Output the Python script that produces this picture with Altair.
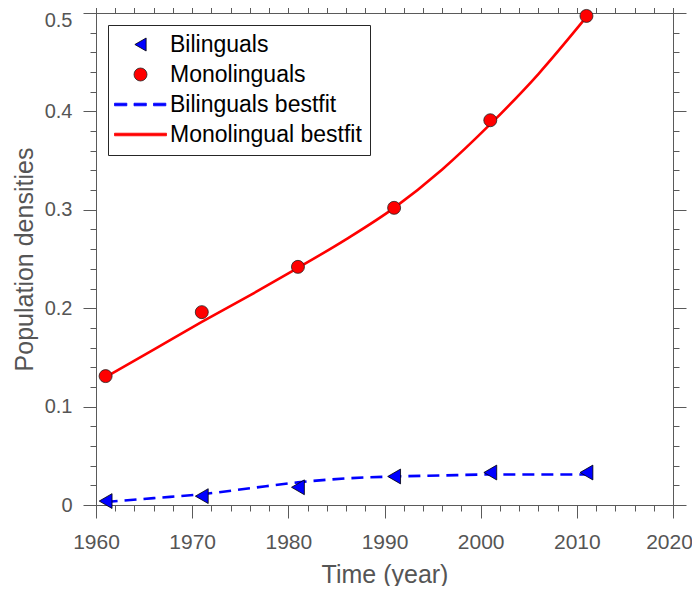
import altair as alt
import pandas as pd

# ---- data ----
years = [1961, 1971, 1981, 1991, 2001, 2011]
bilinguals = [0.004, 0.009, 0.018, 0.029, 0.033, 0.033]
monolinguals = [0.131, 0.196, 0.242, 0.302, 0.391, 0.497]

fit_years = [1961, 1966, 1971, 1976, 1981, 1986, 1991, 1996, 2001, 2006, 2011]
bilinguals_fit = [0.003, 0.007, 0.011, 0.017, 0.023, 0.027, 0.029, 0.030, 0.031, 0.031, 0.031]
monolingual_fit = [0.130, 0.158, 0.186, 0.213, 0.241, 0.270, 0.302, 0.341, 0.387, 0.438, 0.496]

series_names = ["Bilinguals", "Monolinguals", "Bilinguals bestfit", "Monolingual bestfit"]
series_fill = ["#0000ff", "#ff0000", "#0000ff", "#ff0000"]
series_stroke = ["#000000", "#222222", "#0000ff", "#ff0000"]
series_shape = [
    "triangle-left",
    "circle",
    "M-4,-0.2H-2.1V0.2H-4Z M-1.0,-0.2H0.9V0.2H-1.0Z M2.0,-0.2H3.9V0.2H2.0Z",
    "M-4,-0.2H4V0.2H-4Z",
]

x_major = [1960, 1970, 1980, 1990, 2000, 2010, 2020]
x_minor = [1960 + 2 * i for i in range(31)]
y_major = [0, 0.1, 0.2, 0.3, 0.4, 0.5]
y_minor = [round(0.02 * i, 2) for i in range(26)]

bil_pts = pd.DataFrame({"year": years, "value": bilinguals, "series": "Bilinguals"})
mono_pts = pd.DataFrame({"year": years, "value": monolinguals, "series": "Monolinguals"})
bil_fit = pd.DataFrame({"year": fit_years, "value": bilinguals_fit})
mono_fit = pd.DataFrame({"year": fit_years, "value": monolingual_fit})

AX = "#5a5a5a"
TXT = "#555555"
FONT = "Liberation Sans"

xscale = alt.Scale(domain=[1960, 2020], nice=False, zero=False)
yscale = alt.Scale(domain=[0, 0.5], nice=False, zero=False)


def x_axis(orient, values, major, labels=False):
    kw = dict(orient=orient, values=values, tickSize=13 if major else 6,
              tickColor=AX, tickWidth=1, domain=major, domainColor=AX, domainWidth=1,
              grid=False, labels=labels)
    if labels:
        kw.update(format="d", labelFontSize=21, labelColor=TXT, labelFont=FONT,
                  labelPadding=13, labelFlush=False, labelOverlap=False,
                  labelOffset={"condition": {"test": "datum.value >= 2015", "value": -4},
                               "value": 0},
                  title="Time (year)", titleFontSize=25, titleColor=TXT,
                  titleFont=FONT, titleFontWeight="normal", titlePadding=10)
    else:
        kw.update(title=None)
    return alt.Axis(**kw)


def y_axis(orient, values, major, labels=False):
    kw = dict(orient=orient, values=values, tickSize=13 if major else 6,
              tickColor=AX, tickWidth=1, domain=major, domainColor=AX, domainWidth=1,
              grid=False, labels=labels)
    if labels:
        kw.update(format="~g", labelFontSize=20, labelColor=TXT, labelFont=FONT,
                  labelPadding=11, labelFlush=False, labelOverlap=False,
                  labelOffset={"condition": {"test": "datum.value >= 0.45", "value": 7},
                               "value": 0},
                  title="Population densities", titleFontSize=25, titleColor=TXT,
                  titleFont=FONT, titleFontWeight="normal", titlePadding=7)
    else:
        kw.update(title=None)
    return alt.Axis(**kw)


def style_enc():
    return dict(
        fill=alt.Fill("series:N", title=None,
                      scale=alt.Scale(domain=series_names, range=series_fill)),
        stroke=alt.Stroke("series:N", title=None,
                          scale=alt.Scale(domain=series_names, range=series_stroke)),
        shape=alt.Shape("series:N", title=None,
                        scale=alt.Scale(domain=series_names, range=series_shape)),
    )


bil_fit_layer = alt.Chart(bil_fit).mark_line(
    color="#0000ff", strokeWidth=2.6, strokeDash=[12, 7], interpolate="monotone"
).encode(
    x=alt.X("year:Q", scale=xscale, axis=x_axis("bottom", x_major, True, labels=True)),
    y=alt.Y("value:Q", scale=yscale, axis=y_axis("left", y_major, True, labels=True)),
)

mono_fit_layer = alt.Chart(mono_fit).mark_line(
    color="#ff0000", strokeWidth=2.6, interpolate="monotone"
).encode(
    x=alt.X("year:Q", scale=xscale, axis=x_axis("bottom", x_minor, False)),
    y=alt.Y("value:Q", scale=yscale, axis=y_axis("left", y_minor, False)),
)

bil_pt_layer = alt.Chart(bil_pts).mark_point(
    filled=True, size=220, opacity=1, strokeWidth=0.8
).encode(
    x=alt.X("year:Q", scale=xscale, axis=x_axis("top", x_major, True)),
    y=alt.Y("value:Q", scale=yscale, axis=y_axis("right", y_major, True)),
    **style_enc(),
)

mono_pt_layer = alt.Chart(mono_pts).mark_point(
    filled=True, size=169, opacity=1, strokeWidth=0.8
).encode(
    x=alt.X("year:Q", scale=xscale, axis=x_axis("top", x_minor, False)),
    y=alt.Y("value:Q", scale=yscale, axis=y_axis("right", y_minor, False)),
    **style_enc(),
)

chart = alt.layer(
    bil_fit_layer, mono_fit_layer, bil_pt_layer, mono_pt_layer
).resolve_scale(
    x="shared", y="shared"
).resolve_axis(
    x="independent", y="independent"
).properties(
    width=577,
    height=492,
    autosize=alt.AutoSizeParams(type="none"),
    padding={"left": 88, "top": 5, "right": 19, "bottom": 81},
    background="white",
).configure_view(
    strokeWidth=0
).configure_legend(
    orient="top-left",
    offset=12,
    padding=8,
    strokeColor="#262626",
    fillColor="white",
    cornerRadius=0,
    labelFontSize=23,
    labelFont=FONT,
    labelColor="#000000",
    labelLimit=400,
    symbolSize=169,
    symbolStrokeWidth=0.8,
    symbolOffset=13,
    labelOffset=18,
    rowPadding=6,
)

chart.save("out.html", embed_options={"renderer": "svg", "actions": False})
